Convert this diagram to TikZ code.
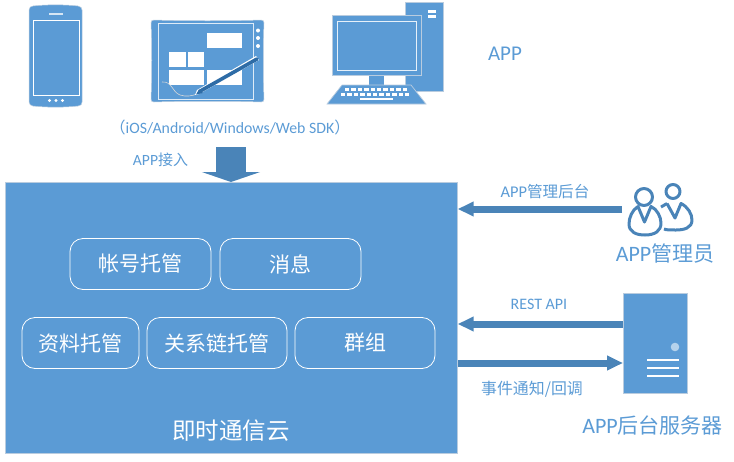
\documentclass[tikz,border=0pt]{standalone}
\usepackage{fontspec}
\setmainfont{Carlito}
\newfontfamily\cjk{Noto Sans CJK SC}
\usetikzlibrary{arrows.meta,calc}
\definecolor{cBlue}{HTML}{5B9BD5}
\definecolor{cDark}{HTML}{4A84B8}
\definecolor{cEdge}{HTML}{B9CCDF}
\definecolor{cText}{HTML}{5B9BD5}
\definecolor{cPen}{HTML}{2E6CA6}
\tikzset{
  box/.style={draw=white,line width=0.8pt,rounded corners=13pt,inner sep=0pt,text=white,minimum height=51pt,font=\fontsize{21}{24}\selectfont\cjk},
  lbl/.style={text=cText,inner sep=0pt,anchor=center},
  conn/.style={draw=cDark,line width=7pt,-{Triangle[width=14pt,length=16pt]}},
  dev/.style={fill=cBlue,draw=cEdge,line width=0.7pt},
  wline/.style={draw=white,line width=0.9pt},
  wfill/.style={fill=white,draw=none},
}
\begin{document}
\begin{tikzpicture}[x=1pt,y=-1pt]
\useasboundingbox (0,0) rectangle (734,461);
% cloud
\node[fill=cBlue,draw=cEdge,line width=0.7pt,inner sep=0pt,minimum width=452pt,minimum height=271pt,anchor=north west] (cloud) at (5,182) {};
\node[box,minimum width=141pt] (zh) at (140.5,264) {帐号托管};
\node[box,minimum width=141pt] (xx) at (290.5,264) {消息};
\node[box,minimum width=117pt] (zl) at (80.5,343) {资料托管};
\node[box,minimum width=140pt] (gx) at (217,343) {关系链托管};
\node[box,minimum width=140pt] (qz) at (365,343) {群组};
\node[text=white,inner sep=0pt,font=\fontsize{23.5}{26}\selectfont\cjk] (yun) at (231,431) {即时通信云};
% phone
\fill[cBlue,draw=cEdge,line width=0.5pt] (29,10) .. controls (29,7) and (31,6.5) .. (33,6) .. controls (46,4.5) and (65,4.5) .. (78,6) .. controls (81,6.5) and (82,8) .. (82,10) -- (82,102) .. controls (82,104.5) and (81,105.5) .. (78,106) .. controls (65,107.5) and (46,107.5) .. (33,106) .. controls (31,105.5) and (29,104.5) .. (29,102) -- cycle;
\draw[wline] (33,20) rectangle (79,95);
\draw[draw=white!75!cBlue,line width=1.5pt] (49,14) -- (63,14);
\foreach \x in {49.5,56,62.5} \fill[white] (\x,100.5) circle (1.6);
% tablet
\fill[cBlue,draw=cEdge,line width=0.5pt] (154,20) .. controls (180,21) and (235,21) .. (261,20) .. controls (263,20) and (264,21) .. (264,23) .. controls (263,45) and (263,75) .. (264,99) .. controls (264,101) and (263,102) .. (261,102) .. controls (235,101) and (180,101) .. (154,102) .. controls (152,102) and (151,101) .. (151,99) .. controls (152,75) and (152,45) .. (151,23) .. controls (151,21) and (152,20) .. (154,20) -- cycle;
\draw[draw=white!80!cBlue,line width=0.9pt] (158,23) rectangle (253,99);
\foreach \y in {30.5,38,46} \fill[white] (258,\y) circle (2);
\fill[wfill] (207,33) rectangle (242,48);
\fill[wfill] (169,52) rectangle (185.5,67);
\fill[wfill] (188,52) rectangle (204,67);
\fill[wfill] (169,70) rectangle (204,85);
\fill[wfill] (207,70) rectangle (242,85);
\draw[draw=white!70!gray,line width=0.6pt] (162,82) .. controls (172,81) and (172,92) .. (180,95) .. controls (186,97) and (192,96) .. (197,94);
\fill[white] (195,95) -- (197,90) -- (256,56) -- (259,60) -- (199,94) -- cycle;
\draw[draw=cPen,line width=3.6pt,line cap=round] (199.5,91.5) -- (257,59);
\fill[cPen] (196,94.5) -- (199,89.5) -- (203,93) -- cycle;
% computer
\fill[dev] (405,2.5) rectangle (443,91);
\fill[wfill] (428,10) rectangle (436,13);
\fill[wfill] (428,15) rectangle (436,18);
\fill[cBlue] (368.5,74) rectangle (384,86);
\fill[dev] (332,15) rectangle (421.5,75);
\draw[draw=white!85!cBlue,line width=1pt] (337.5,21) rectangle (416.5,70);
\fill[dev] (342,85) -- (411,85) -- (426,104) -- (327,104) -- cycle;
\foreach \i in {0,...,9} \fill[white] (345+\i*6.4,88) rectangle +(4.4,2.6);
\foreach \i in {0,...,10} \fill[white] (341+\i*6.4,93) rectangle +(4.4,2.6);
\fill[wfill] (360,97.5) rectangle (393,100);
% top labels
\node[lbl,font=\fontsize{21}{24}\selectfont] (app) at (505,54) {APP};
\node[lbl,font=\fontsize{15.8}{18}\selectfont] (sdk) at (230,127) {{\cjk （}iOS/Android/Windows/Web SDK{\cjk ）}};
\node[lbl,font=\fontsize{15.6}{18}\selectfont] (jr) at (160.5,160) {APP{\cjk\fontsize{15}{18}\selectfont 接入}};
\coordinate (downstart) at (231,147);
\draw[draw=cDark,line width=30pt,-{Triangle[width=58pt,length=10pt]}] (downstart) -- (downstart |- cloud.north);
% admin
\coordinate (ad) at (622,209);
\draw[conn] (ad) -- (ad -| cloud.east);
\node[lbl,font=\fontsize{16.4}{18}\selectfont] (glht) at (545,192) {APP{\cjk\fontsize{15.6}{18}\selectfont 管理后台}};
\begin{scope}[draw=cDark,line width=3pt,fill=none,line join=round]
\draw (644,197) circle (8.5);
\draw (673,191.5) circle (7);
\draw (638,206.5) .. controls (632,210) and (629,218) .. (629,224) .. controls (629,232) and (636,235) .. (645,235) .. controls (655,235) and (661,231) .. (661,223) .. controls (661,217) and (657,209) .. (651,206.5) -- (644.5,222) -- cycle;
\draw (667,203.5) -- (675,218) -- (681,203.5) .. controls (688,207) and (692,214) .. (692,220) .. controls (692,228) and (684,230) .. (676,230) .. controls (670,230) and (666,230) .. (664,229);
\draw (667,203.5) -- (661,207);
\end{scope}
\node[lbl,font=\fontsize{22}{24}\selectfont] (gly) at (665,254) {APP{\cjk\fontsize{21}{24}\selectfont 管理员}};
% server
\node[fill=cBlue,draw=cEdge,line width=0.7pt,inner sep=0pt,minimum width=64pt,minimum height=100pt,anchor=north west] (srv) at (623,293) {};
\fill[white!55!cBlue] (675,347) circle (4.3);
\foreach \y in {360,368,376} \draw[draw=white,line width=1.6pt] (647,\y) -- (679,\y);
\coordinate (rs) at (623,324);
\coordinate (ev) at (458,363);
\draw[conn] (rs) -- (rs -| cloud.east);
\draw[conn] (ev) -- (ev -| srv.west);
\node[lbl,font=\fontsize{16}{18}\selectfont] (rest) at (539,304) {REST API};
\node[lbl,font=\fontsize{15.9}{18}\selectfont\cjk] (sj) at (532,389) {事件通知/回调};
\node[lbl,font=\fontsize{22}{24}\selectfont] (hts) at (652.5,425) {APP{\cjk\fontsize{21}{24}\selectfont 后台服务器}};
\end{tikzpicture}
\end{document}
